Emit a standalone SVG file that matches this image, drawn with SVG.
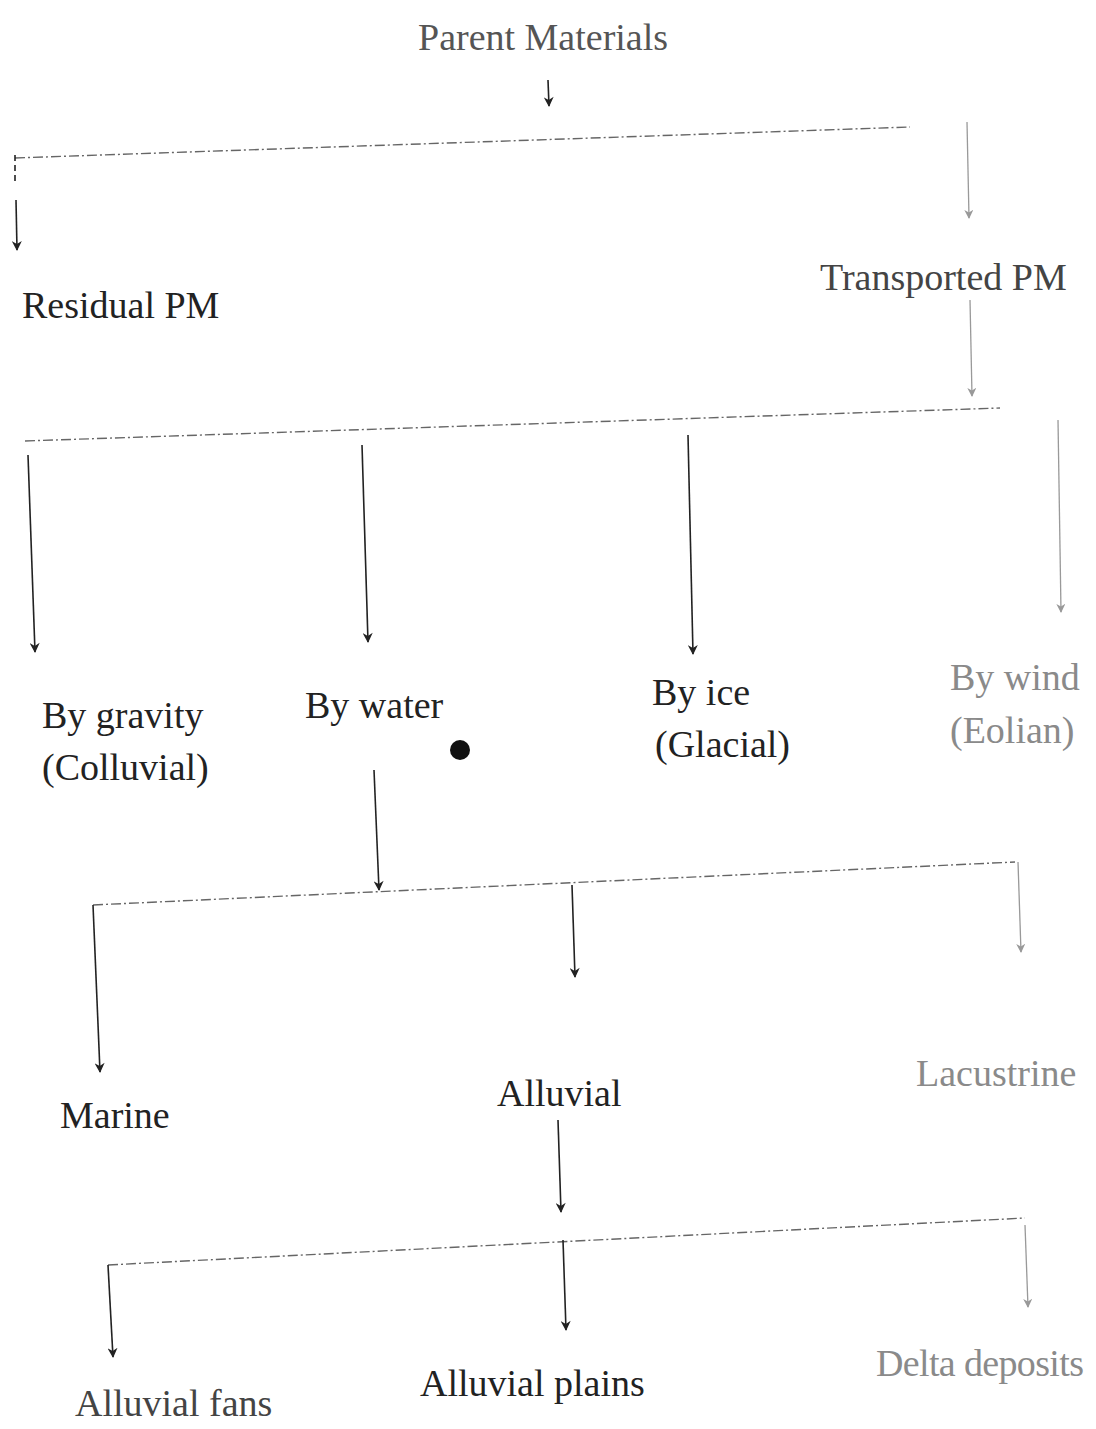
<svg xmlns="http://www.w3.org/2000/svg" width="1096" height="1429" viewBox="0 0 1096 1429">
<defs>
<marker id="ah" viewBox="0 0 10 10" refX="9" refY="5" markerWidth="12" markerHeight="10" orient="auto" markerUnits="userSpaceOnUse">
<path d="M0,0 L10,5 L0,10 L3,5 Z" fill="#222"/>
</marker>
<marker id="ahf" viewBox="0 0 10 10" refX="9" refY="5" markerWidth="11" markerHeight="9" orient="auto" markerUnits="userSpaceOnUse">
<path d="M0,0 L10,5 L0,10 L3,5 Z" fill="#999"/>
</marker>
<style>
text{font-family:"Liberation Serif","Times New Roman",serif;font-size:38px;fill:#222}
.f{fill:#8a8a8a}
.c{stroke:#222;stroke-width:1.6;fill:none}
.a{marker-end:url(#ah)}
.h{stroke:#666;stroke-width:1.4;stroke-dasharray:10 3 2 3;fill:none}
.cf{stroke:#999;stroke-width:1.3;fill:none;marker-end:url(#ahf)}
</style>
</defs>
<rect width="1096" height="1429" fill="#fff"/>
<g id="connectors">
<line class="c a" x1="548" y1="80" x2="549" y2="106"/>
<line class="h" x1="15" y1="158" x2="910" y2="127"/>
<line class="c" x1="15" y1="155" x2="15" y2="185" stroke-dasharray="6 4"/>
<line class="c a" x1="16" y1="200" x2="17" y2="250"/>
<line class="cf" x1="967" y1="122" x2="969" y2="218"/>
<line class="cf" x1="970" y1="300" x2="972" y2="396"/>
<line class="h" x1="25" y1="441" x2="1000" y2="408"/>
<line class="c a" x1="28" y1="455" x2="35" y2="652"/>
<line class="c a" x1="362" y1="445" x2="368" y2="642"/>
<line class="c a" x1="688" y1="435" x2="693" y2="654"/>
<line class="cf" x1="1058" y1="420" x2="1061" y2="612"/>
<line class="c a" x1="374" y1="770" x2="379" y2="890"/>
<line class="h" x1="93" y1="905" x2="1015" y2="862"/>
<line class="c a" x1="93" y1="905" x2="100" y2="1072"/>
<line class="c a" x1="572" y1="885" x2="575" y2="977"/>
<line class="cf" x1="1018" y1="862" x2="1021" y2="952"/>
<line class="c a" x1="558" y1="1120" x2="561" y2="1212"/>
<line class="h" x1="108" y1="1265" x2="1025" y2="1218"/>
<line class="c a" x1="108" y1="1265" x2="113" y2="1357"/>
<line class="c a" x1="563" y1="1240" x2="566" y2="1330"/>
<line class="cf" x1="1025" y1="1225" x2="1028" y2="1307"/>
</g>
<g id="parent-materials"><text x="418" y="50" style="fill:#555">Parent Materials</text></g>
<g id="residual-pm"><text x="22" y="318">Residual PM</text></g>
<g id="transported-pm"><text x="820" y="290" style="fill:#444">Transported PM</text></g>
<g id="by-gravity"><text x="42" y="728">By gravity</text><text x="42" y="780">(Colluvial)</text></g>
<g id="by-water"><text x="305" y="718">By water</text></g>
<g id="by-ice"><text x="652" y="705">By ice</text><text x="655" y="757">(Glacial)</text></g>
<g id="by-wind"><text x="950" y="690" class="f">By wind</text><text x="950" y="743" class="f">(Eolian)</text></g>
<circle cx="460" cy="750" r="10" fill="#111"/>
<g id="marine"><text x="60" y="1128">Marine</text></g>
<g id="alluvial"><text x="497" y="1106">Alluvial</text></g>
<g id="lacustrine"><text x="916" y="1086" class="f">Lacustrine</text></g>
<g id="alluvial-fans"><text x="75" y="1416" style="fill:#444">Alluvial fans</text></g>
<g id="alluvial-plains"><text x="420" y="1396">Alluvial plains</text></g>
<g id="delta-deposits"><text x="876" y="1376" class="f" textLength="208">Delta deposits</text></g>
</svg>
